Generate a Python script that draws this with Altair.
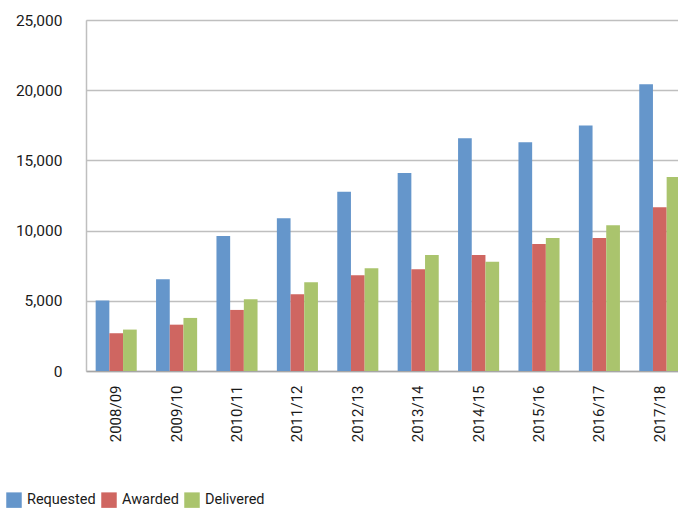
import altair as alt
import pandas as pd

years = ["2008/09", "2009/10", "2010/11", "2011/12", "2012/13",
         "2013/14", "2014/15", "2015/16", "2016/17", "2017/18"]
requested = [5030, 6530, 9610, 10880, 12770, 14100, 16570, 16290, 17480, 20420]
awarded = [2690, 3300, 4350, 5460, 6820, 7240, 8260, 9050, 9470, 11660]
delivered = [2950, 3780, 5110, 6320, 7310, 8260, 7790, 9470, 10380, 13820]
series = ["Requested", "Awarded", "Delivered"]
colors = ["#6596CB", "#CF6661", "#AAC46D"]

rows = []
for i, y in enumerate(years):
    for s, vals in zip(series, [requested, awarded, delivered]):
        rows.append({"year": y, "series": s, "value": vals[i]})
df = pd.DataFrame(rows)

FONT = "Roboto"

chart = alt.Chart(df).mark_bar().encode(
    x=alt.X("year:N", sort=years,
            scale=alt.Scale(range=[0, 604], paddingInner=0.32, paddingOuter=0.16),
            axis=alt.Axis(title=None, labelAngle=-90, labelFontSize=15, labelPadding=14,
                          ticks=False, domainColor="#A6A6A6", domainWidth=1.5,
                          labelColor="#1a1a1a", labelFont=FONT)),
    xOffset=alt.XOffset("series:N", sort=series),
    y=alt.Y("value:Q",
            scale=alt.Scale(domain=[0, 25000]),
            axis=alt.Axis(title=None, values=[0, 5000, 10000, 15000, 20000, 25000],
                          format=",d", labelFontSize=15.5, labelPadding=24, ticks=False,
                          domainColor="#BFBFBF", domainWidth=1.5,
                          gridColor="#BFBFBF", gridWidth=1.5,
                          labelColor="#1a1a1a", labelFont=FONT)),
    color=alt.Color("series:N", sort=series,
                    scale=alt.Scale(domain=series, range=colors),
                    legend=alt.Legend(title=None, orient="none", legendX=-80, legendY=472,
                                      direction="horizontal", symbolType="square",
                                      symbolSize=240, symbolStrokeWidth=0,
                                      labelFontSize=14.5, labelOffset=5, columnPadding=5,
                                      labelColor="#1a1a1a", labelFont=FONT)),
).properties(
    width=592, height=351,
    autosize=alt.AutoSizeParams(type="none"),
    padding={"left": 86, "top": 20, "right": 0, "bottom": 144},
).configure_view(stroke=None).configure(background="white")

chart.save("out.html", embed_options={"renderer": "svg", "actions": False})
